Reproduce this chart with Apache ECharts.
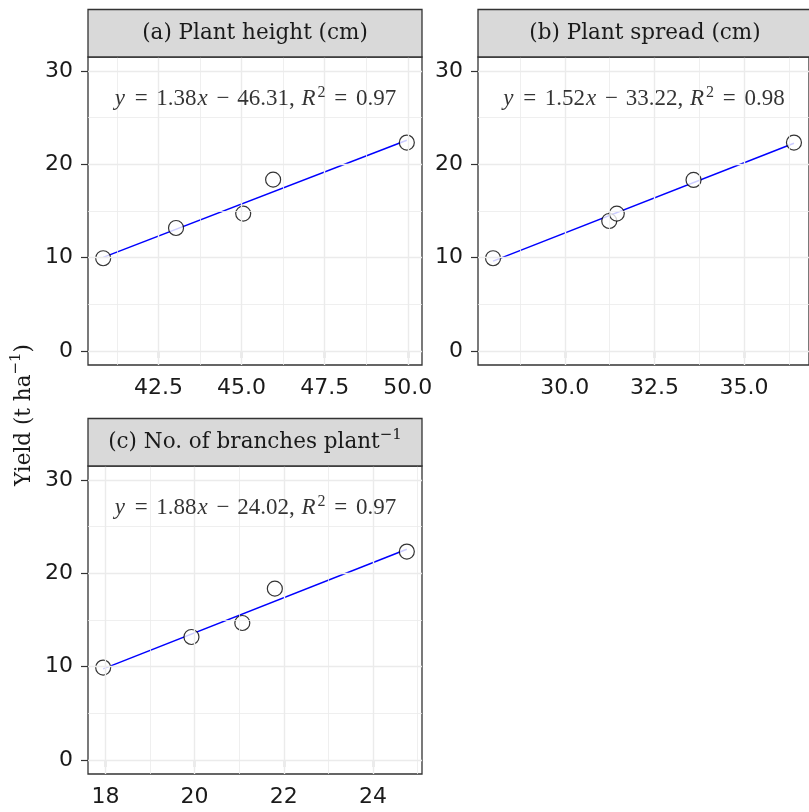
<!DOCTYPE html>
<html><head><meta charset="utf-8">
<script src="https://cdn.jsdelivr.net/npm/echarts@6/dist/echarts.min.js"></script>
<style>html,body{margin:0;padding:0;background:#fff}#c{width:809px;height:812px}</style>
</head><body><div id="c"></div>
<script>
// ---- data ----
const panelTitles = ['(a) Plant height (cm)', '(b) Plant spread (cm)', '(c) No. of branches plant{s|\u22121}'];
const heightX = [40.84, 43.03, 45.05, 45.95, 49.97];
const heightY = [9.94, 13.18, 14.72, 18.36, 22.33];
const spreadX = [28.0, 31.24, 31.45, 33.59, 36.39];
const spreadY = [9.94, 13.93, 14.72, 18.33, 22.33];
const branchX = [17.95, 19.93, 21.07, 21.80, 24.76];
const branchY = [9.90, 13.18, 14.68, 18.36, 22.33];
const slopes = ['1.38', '1.52', '1.88'];
const intercepts = ['46.31', '33.22', '24.02'];
const rSquared = ['0.97', '0.98', '0.97'];
const xTicksA = [42.5, 45.0, 47.5, 50.0];
const xMinorA = [41.25, 43.75, 46.25, 48.75];
const xTicksB = [30.0, 32.5, 35.0];
const xMinorB = [28.75, 31.25, 33.75, 36.25];
const xTicksC = [18, 20, 22, 24];
const xMinorC = [19, 21, 23, 25];
const yTicks = [0, 10, 20, 30];
const yMinor = [5, 15, 25];
const yLimits = [0, 30];
const eqLabelY = 27;
const yTitle = 'Yield (t ha{s|\u22121})';

// ---- layout ----
const PW = 334, PH = 308, STRIP = 47.5;
const layout = [
  {left: 88, top: 57},
  {left: 478, top: 57},
  {left: 88, top: 466}
];
const SERIF = 'DejaVu Serif';
const SANS = 'DejaVu Sans';
const MATH = 'Liberation Serif';

const panels = [
  {xs: heightX, ys: heightY, ticks: xTicksA, minor: xMinorA, dec: 1},
  {xs: spreadX, ys: spreadY, ticks: xTicksB, minor: xMinorB, dec: 1},
  {xs: branchX, ys: branchY, ticks: xTicksC, minor: xMinorC, dec: 0}
];

function fit(xs, ys) {
  const n = xs.length;
  const mx = xs.reduce((a, b) => a + b, 0) / n;
  const my = ys.reduce((a, b) => a + b, 0) / n;
  let sxy = 0, sxx = 0;
  for (let i = 0; i < n; i++) { sxy += (xs[i] - mx) * (ys[i] - my); sxx += (xs[i] - mx) ** 2; }
  const b = sxy / sxx;
  return {b: b, a: my - b * mx};
}

const grids = [], xAxes = [], yAxes = [], series = [], graphics = [];
const yr = yLimits[1] - yLimits[0];
const yMin = yLimits[0] - 0.05 * yr, yMax = yLimits[1] + 0.05 * yr;
const supStyle = {fontSize: 15, lineHeight: 16, verticalAlign: 'top', fontFamily: SERIF, fill: '#1a1a1a', color: '#1a1a1a'};
const LH = 29;
const eqRich = {
  i: {fontStyle: 'italic', fontFamily: MATH, fontSize: 23, lineHeight: LH, color: '#000', padding: [0, 1, 0, 1]},
  eq: {fontFamily: MATH, fontSize: 23, lineHeight: LH, color: '#000', padding: [0, 3, 0, 3]},
  mi: {fontFamily: MATH, fontSize: 23, lineHeight: LH, color: '#000', padding: [0, 2, 0, 2]},
  s: {fontSize: 16, lineHeight: 17, verticalAlign: 'top', fontFamily: MATH, color: '#000', padding: [0, 0, 0, 1]}
};

panels.forEach((p, i) => {
  const L = layout[i];
  const dmin = Math.min(...p.xs), dmax = Math.max(...p.xs);
  const xr = dmax - dmin;
  const xMin = dmin - 0.05 * xr, xMax = dmax + 0.05 * xr;
  grids.push({left: L.left, top: L.top, width: PW, height: PH, show: true,
    backgroundColor: '#fff', borderColor: '#333', borderWidth: 1.3});
  xAxes.push({gridIndex: i, type: 'value', min: xMin, max: xMax,
    axisLine: {show: false},
    axisTick: {show: true, customValues: p.ticks, length: 7, lineStyle: {color: '#333', width: 1.2}},
    axisLabel: {customValues: p.ticks, margin: 12, fontFamily: SANS, fontSize: 22, color: '#1a1a1a',
      formatter: v => Number(v).toFixed(p.dec)},
    splitLine: {show: false}});
  yAxes.push({gridIndex: i, type: 'value', min: yMin, max: yMax,
    axisLine: {show: false},
    axisTick: {show: true, customValues: yTicks, length: 7, lineStyle: {color: '#333', width: 1.2}},
    axisLabel: {customValues: yTicks, margin: 15, fontFamily: SANS, fontSize: 22, color: '#1a1a1a'},
    splitLine: {show: false}});
  const gl = [];
  p.minor.forEach(v => gl.push({xAxis: v, lineStyle: {width: 0.8}}));
  yMinor.forEach(v => gl.push({yAxis: v, lineStyle: {width: 0.8}}));
  p.ticks.forEach(v => gl.push({xAxis: v, lineStyle: {width: 1.4}}));
  yTicks.forEach(v => gl.push({yAxis: v, lineStyle: {width: 1.4}}));
  series.push({type: 'line', xAxisIndex: i, yAxisIndex: i, data: [], z: 1, silent: true, animation: false,
    markLine: {silent: true, animation: false, symbol: ['none', 'none'], label: {show: false},
      lineStyle: {color: '#ebebeb', type: 'solid'}, emphasis: {disabled: true}, data: gl}});
  const f = fit(p.xs, p.ys);
  series.push({type: 'line', xAxisIndex: i, yAxisIndex: i, z: 3, animation: false, silent: true,
    symbol: 'none', lineStyle: {color: '#0000ff', width: 1.5},
    data: [[dmin, f.a + f.b * dmin], [dmax, f.a + f.b * dmax]]});
  series.push({type: 'scatter', xAxisIndex: i, yAxisIndex: i, z: 4, animation: false, silent: true,
    symbolSize: 15, itemStyle: {color: '#fff', borderColor: '#000', borderWidth: 1.2},
    data: p.xs.map((x, j) => [x, p.ys[j]])});
  series.push({type: 'scatter', xAxisIndex: i, yAxisIndex: i, z: 5, animation: false, silent: true,
    symbolSize: 1, itemStyle: {color: 'rgba(0,0,0,0)'},
    label: {show: true, position: 'inside', fontFamily: MATH, fontSize: 23, lineHeight: LH, color: '#000',
      formatter: '{i|y} {eq|=} ' + slopes[i] + '{i|x} {mi|\u2212} ' + intercepts[i] + ', {i|R}{s|2} {eq|=} ' + rSquared[i],
      rich: eqRich},
    data: [[(dmin + dmax) / 2, eqLabelY]]});
  // strip
  graphics.push({type: 'rect', shape: {x: L.left, y: L.top - STRIP, width: PW, height: STRIP},
    style: {fill: '#d9d9d9', stroke: '#333', lineWidth: 1.3}, z: 10});
  graphics.push({type: 'text', x: L.left + PW / 2, y: L.top - STRIP / 2, z: 11,
    style: {text: panelTitles[i], font: '21.5px "' + SERIF + '"', lineHeight: 30, fill: '#1a1a1a', align: 'center', verticalAlign: 'middle',
      rich: {s: supStyle}}});
});

graphics.push({type: 'text', x: 24, y: 415, rotation: Math.PI / 2, z: 11,
  style: {text: yTitle, font: '21.5px "' + SERIF + '"', lineHeight: 30, fill: '#1a1a1a', align: 'center', verticalAlign: 'middle',
    rich: {s: supStyle}}});

const chart = echarts.init(document.getElementById('c'), null, {renderer: 'canvas'});
chart.setOption({
  animation: false,
  backgroundColor: '#fff',
  grid: grids, xAxis: xAxes, yAxis: yAxes, series: series, graphic: graphics
});
</script></body></html>
